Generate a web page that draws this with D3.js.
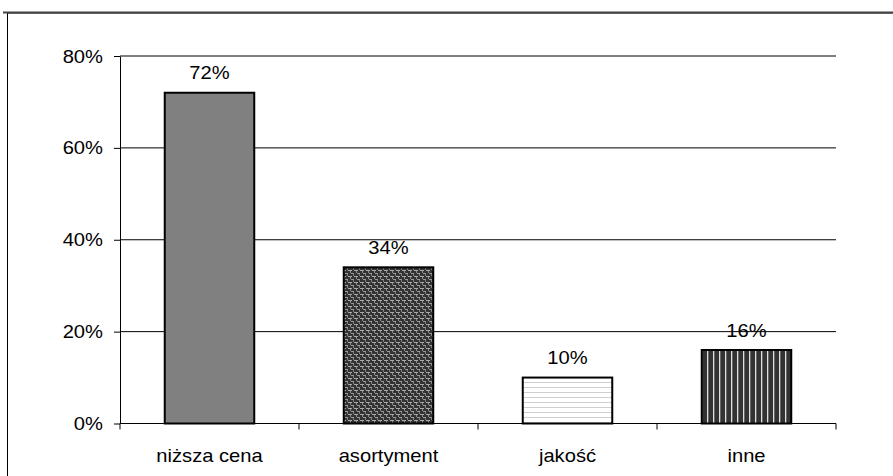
<!DOCTYPE html>
<html><head><meta charset="utf-8">
<script src="https://cdn.jsdelivr.net/npm/d3@7"></script>
<style>body{margin:0;background:#fff}svg{display:block}</style>
</head><body>
<svg id="c" width="893" height="476"></svg>
<script>
const categories = ["niższa cena", "asortyment", "jakość", "inne"];
const values = [72, 34, 10, 16];
const yTicks = [0, 20, 40, 60, 80];
const fills = ["solid", "weave", "hlines", "vlines"];

(function(){
const FONT = "Liberation Sans, Arial, sans-serif";
const FS = 18, SX = 1.12;
const svg = d3.select("#c");
const defs = svg.append("defs");
// weave pattern
const pw = defs.append("pattern").attr("id","weave").attr("patternUnits","userSpaceOnUse")
  .attr("width",6).attr("height",6);
pw.append("rect").attr("width",6).attr("height",6).attr("fill","#333");
pw.append("rect").attr("x",0).attr("y",0).attr("width",4).attr("height",1).attr("fill","#aaa");
pw.append("rect").attr("x",2).attr("y",1).attr("width",1).attr("height",2).attr("fill","#8a8a8a");
pw.append("rect").attr("x",3).attr("y",3).attr("width",4).attr("height",1).attr("fill","#9a9a9a");
pw.append("rect").attr("x",5).attr("y",4).attr("width",1).attr("height",2).attr("fill","#808080");
// horizontal lines
const ph = defs.append("pattern").attr("id","hlines").attr("patternUnits","userSpaceOnUse")
  .attr("width",5).attr("height",5);
ph.append("rect").attr("width",5).attr("height",5).attr("fill","#fff");
ph.append("rect").attr("y",2).attr("width",5).attr("height",1).attr("fill","#cfcfcf");
// vertical lines
const pv = defs.append("pattern").attr("id","vlines").attr("patternUnits","userSpaceOnUse")
  .attr("width",6).attr("height",6).attr("x",2);
pv.append("rect").attr("width",6).attr("height",6).attr("fill","#333");
pv.append("rect").attr("x",3).attr("width",1.3).attr("height",6).attr("fill","#e0e0e0");

// outer frame
svg.append("path").attr("d","M7.5,476 V13 H893").attr("fill","none").attr("stroke","#000").attr("stroke-width",1);
svg.append("path").attr("d","M3,12.5 H893").attr("fill","none").attr("stroke","#444").attr("stroke-width",2);

const pL = 120, pR = 836, pT = 56, pB = 423.5;
const x = d3.scaleBand().domain(categories).range([pL, pR]).paddingInner(0.5).paddingOuter(0.25);
const y = d3.scaleLinear().domain([0, 80]).range([pB, pT]);

function stretch(sel, anchorX, anchorY) {
  sel.attr("transform", function(d, i) {
    const ax = anchorX(d, i), ay = anchorY(d, i);
    return `translate(${ax},${ay}) scale(${SX},1)`;
  }).attr("x", 0).attr("y", 0);
}

// gridlines
svg.append("g").selectAll("line").data(yTicks.filter(d=>d>0)).join("line")
  .attr("x1", pL).attr("x2", pR).attr("y1", d=>y(d)).attr("y2", d=>y(d))
  .attr("stroke","#000").attr("stroke-width",1);

// y axis
const yAxis = d3.axisLeft(y).tickValues(yTicks).tickSize(6).tickSizeOuter(0).tickPadding(5)
  .tickFormat(d => d + "%");
const gy = svg.append("g").attr("transform",`translate(${pL},0)`).call(yAxis);
gy.selectAll("line,path").attr("stroke","#000");
gy.selectAll("text").attr("font-family",FONT).attr("font-size",FS).attr("fill","#000")
  .attr("dy", null).attr("dominant-baseline","central")
  .attr("transform", `translate(-17,0) scale(${SX},1)`).attr("x", 0);

// x axis
const xb = d3.scaleLinear().domain([0, categories.length]).range([pL, pR]);
const gx = svg.append("g").attr("transform",`translate(0,${pB})`);
gx.append("line").attr("x1",pL).attr("x2",pR).attr("stroke","#000");
gx.selectAll("line.t").data(d3.range(categories.length+1)).join("line").attr("class","t")
  .attr("x1",d=>xb(d)).attr("x2",d=>xb(d)).attr("y1",0).attr("y2",6).attr("stroke","#000");
gx.selectAll("text").data(categories).join("text")
  .attr("text-anchor","middle").attr("font-family",FONT)
  .attr("font-size",FS).attr("fill","#000").text(d=>d)
  .call(stretch, d => x(d) + x.bandwidth()/2, () => 38.5);

// bars
const data = categories.map((c,i)=>({c, v: values[i], f: fills[i]}));
svg.append("g").selectAll("rect").data(data).join("rect")
  .attr("x", d=>x(d.c)).attr("width", x.bandwidth())
  .attr("y", d=>y(d.v)).attr("height", d=>y(0)-y(d.v))
  .attr("fill", d => d.f === "solid" ? "#808080" : `url(#${d.f})`)
  .attr("stroke","#000").attr("stroke-width",2);

// value labels
svg.append("g").selectAll("text").data(data).join("text")
  .attr("text-anchor","middle").attr("font-family",FONT)
  .attr("font-size",FS).attr("fill","#000").text(d=>d.v+"%")
  .call(stretch, d => x(d.c)+x.bandwidth()/2, d => y(d.v)-13.5);
})();
</script>
</body></html>
